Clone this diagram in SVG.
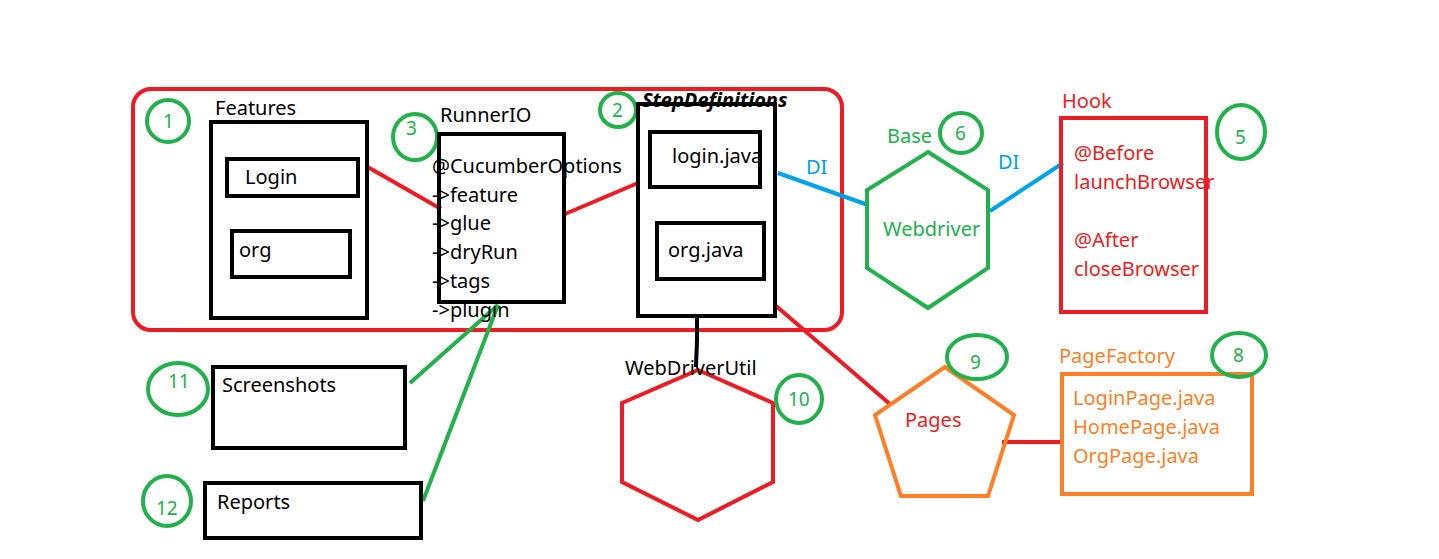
<svg xmlns="http://www.w3.org/2000/svg" width="1439" height="559" viewBox="0 0 1439 559">
<style>
text{font-family:"Noto Sans","Open Sans","Liberation Sans",sans-serif;font-size:20px}
.k{fill:#000}
.r{fill:#ED1C24}
.g{fill:#22B14C}
.b{fill:#00A2E8}
.o{fill:#FF7F27}
.n{font-size:19px;fill:#22B14C}
.box{fill:none;stroke:#000;stroke-width:4}
.num{fill:none;stroke:#22B14C;stroke-width:4}
.lr{stroke:#ED1C24;stroke-width:4;fill:none}
.lg{stroke:#22B14C;stroke-width:4;fill:none}
.lb{stroke:#00A2E8;stroke-width:4;fill:none}
.lk{stroke:#000;stroke-width:4;fill:none}
</style>
<rect width="1439" height="559" fill="#fff"/>
<g id="container"><rect x="133" y="89" width="709" height="241" rx="18" fill="none" stroke="#ED1C24" stroke-width="4"/></g>
<g id="connectors">
<line class="lr" x1="366" y1="166" x2="441" y2="209"/>
<line class="lr" x1="565" y1="214" x2="638" y2="183"/>
<line class="lb" x1="778" y1="173" x2="868" y2="205"/>
<line class="lb" x1="990" y1="211" x2="1063" y2="163"/>
<polyline class="lk" points="697,317 697,340 696,367"/>
<line class="lr" x1="775" y1="305" x2="891" y2="405"/>
<line class="lr" x1="1002" y1="442" x2="1064" y2="442"/>
<line class="lg" x1="410" y1="383" x2="498" y2="305"/>
<line class="lg" x1="423" y1="501" x2="498" y2="305"/>
</g>
<g id="n1"><ellipse class="num" cx="168" cy="121" rx="21" ry="21"/><text class="n" x="163" y="128">1</text></g>
<g id="features"><text class="k" x="215" y="115">Features</text><rect class="box" x="211" y="122" width="156" height="196"/></g>
<g id="login"><rect class="box" x="227" y="159" width="131" height="37"/><text class="k" x="245" y="184">Login</text></g>
<g id="org"><rect class="box" x="232" y="231" width="118" height="46"/><text class="k" x="239" y="257">org</text></g>
<g id="n3"><ellipse class="num" cx="415" cy="137" rx="22" ry="23"/><text class="n" x="406" y="135">3</text></g>
<g id="runner"><text class="k" x="440" y="122">RunnerIO</text><rect class="box" x="439" y="134" width="125" height="168"/>
<text class="k" x="432" y="173">@CucumberOptions</text>
<text class="k" x="432" y="202">-&gt;feature</text>
<text class="k" x="432" y="230">-&gt;glue</text>
<text class="k" x="432" y="259">-&gt;dryRun</text>
<text class="k" x="432" y="288">-&gt;tags</text>
<text class="k" x="432" y="317">-&gt;plugin</text></g>
<g id="n2"><ellipse class="num" cx="618" cy="110" rx="18" ry="17"/><text class="n" x="612" y="117">2</text></g>
<g id="stepdefs"><rect class="box" x="638" y="104" width="137" height="212"/><text class="k" x="642" y="107" style="font-weight:bold;font-style:italic">StepDefinitions</text></g>
<g id="loginjava"><rect class="box" x="650" y="132" width="110" height="55"/><text class="k" x="672" y="163">login.java</text></g>
<g id="orgjava"><rect class="box" x="657" y="223" width="107" height="56"/><text class="k" x="668" y="257">org.java</text></g>
<text class="b" x="806" y="174">DI</text>
<text class="b" x="998" y="169">DI</text>
<g id="base"><text class="g" x="887" y="143">Base</text><polygon points="928,152 988,190 988,268 928,308 867,268 867,190" fill="none" stroke="#22B14C" stroke-width="4"/><text class="g" x="883" y="236">Webdriver</text></g>
<g id="n6"><ellipse class="num" cx="961" cy="133" rx="21" ry="20"/><text class="n" x="955" y="140">6</text></g>
<g id="hook"><text class="r" x="1062" y="108">Hook</text><rect x="1061" y="118" width="145" height="194" fill="none" stroke="#ED1C24" stroke-width="4"/>
<text class="r" x="1074" y="160">@Before</text>
<text class="r" x="1074" y="189">launchBrowser</text>
<text class="r" x="1074" y="247">@After</text>
<text class="r" x="1074" y="276">closeBrowser</text></g>
<g id="n5"><ellipse class="num" cx="1241" cy="132" rx="24" ry="27"/><text class="n" x="1235" y="144">5</text></g>
<g id="n11"><ellipse class="num" cx="178" cy="389" rx="30" ry="26"/><text class="n" x="168" y="388">11</text></g>
<g id="screenshots"><rect class="box" x="213" y="367" width="192" height="81"/><text class="k" x="222" y="392">Screenshots</text></g>
<g id="n12"><ellipse class="num" cx="167" cy="501" rx="24" ry="25"/><text class="n" x="156" y="515">12</text></g>
<g id="reports"><rect class="box" x="205" y="483" width="216" height="55"/><text class="k" x="217" y="509">Reports</text></g>
<g id="webdriverutil"><polygon points="698,370 773,403 773,482 698,520 622,482 622,403" fill="none" stroke="#ED1C24" stroke-width="4"/><text class="k" x="625" y="375">WebDriverUtil</text></g>
<g id="n10"><ellipse class="num" cx="799" cy="399" rx="23" ry="24"/><text class="n" x="788" y="406">10</text></g>
<g id="pages"><polygon points="945,367 1014,415 988,496 901,496 875,415" fill="none" stroke="#FF7F27" stroke-width="4"/><text class="r" x="905" y="427">Pages</text></g>
<g id="n9"><ellipse class="num" cx="977" cy="357" rx="30" ry="22"/><text class="n" x="970" y="369">9</text></g>
<g id="pagefactory"><text class="o" x="1059" y="363">PageFactory</text><rect x="1062" y="374" width="190" height="120" fill="none" stroke="#FF7F27" stroke-width="4"/>
<text class="o" x="1073" y="405">LoginPage.java</text>
<text class="o" x="1073" y="434">HomePage.java</text>
<text class="o" x="1073" y="463">OrgPage.java</text></g>
<g id="n8"><ellipse class="num" cx="1239" cy="355" rx="27" ry="22"/><text class="n" x="1233" y="362">8</text></g>
</svg>
